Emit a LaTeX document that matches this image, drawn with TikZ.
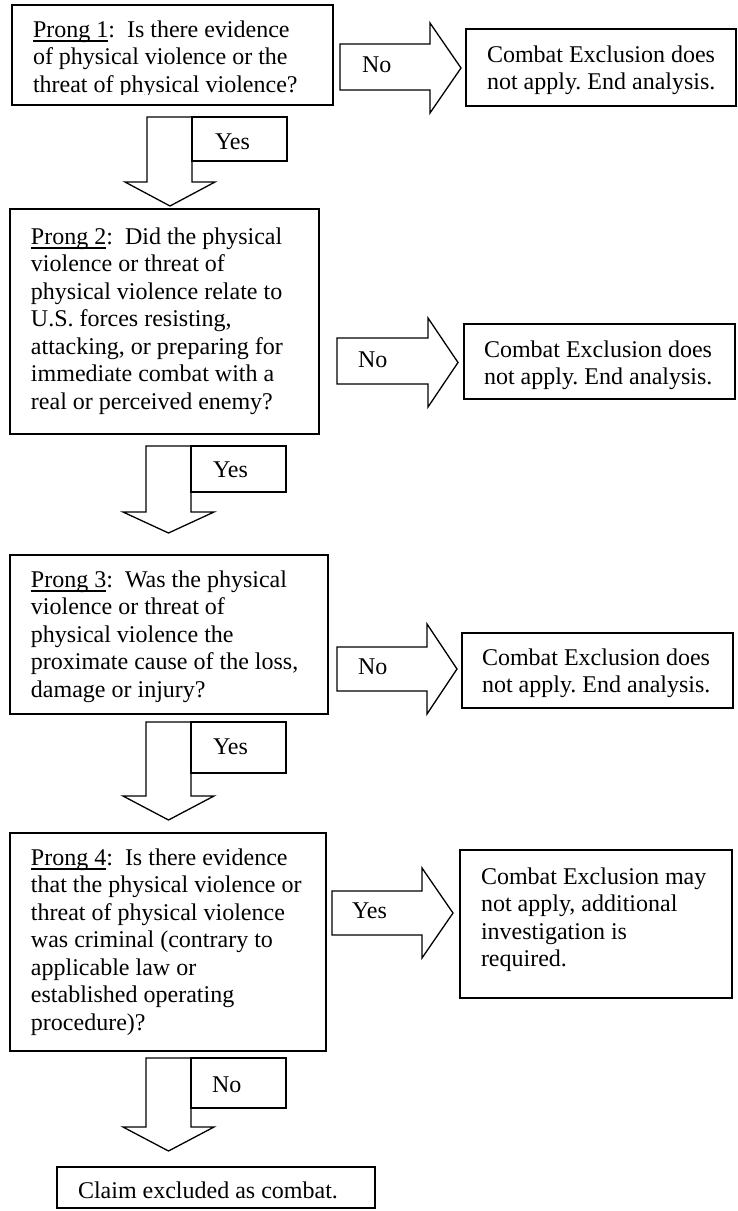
\documentclass[tikz,border=0pt]{standalone}
\usepackage{fontspec}
\setmainfont{Liberation Serif}
\frenchspacing
\newcommand\prong[1]{\leavevmode\setbox0\hbox{#1}\rlap{\rule[-2.3pt]{\wd0}{0.7pt}}\box0}
\newcommand\ptext[1]{\parbox[t]{170pt}{\fontsize{12}{13.75}\selectfont #1}}
\tikzset{
  boxst/.style={draw=black, line width=0.8pt, rectangle, inner sep=0pt, outer sep=0pt},
  txt/.style={inner sep=0pt, outer sep=0pt, anchor=base west, font=\fontsize{12}{13.75}\selectfont},
  blockst/.style={draw=black, line width=0.65pt, line join=miter, fill=white}
}
% box: name, x1, y1, x2, y2 (pixel units, y down)
\newcommand\mkbox[5]{\node[boxst, minimum width={(#4-#2)*0.5pt}, minimum height={(#5-#3)*0.5pt}] (#1) at ({(#2+#4)/2},{(#3+#5)/2}) {};}
% right block arrow: xL, yT, yB, xH, hT, hB, xTip
\newcommand\rblock[7]{\draw[blockst] (#1,#2) -- (#4,#2) -- (#4,#5) -- (#7,{(#5+#6)/2}) -- (#4,#6) -- (#4,#3) -- (#1,#3) -- cycle;}
% down block arrow with label box: xl, xr, top, headbase, hl, hr, tipy, boxright, boxbottom
\newcommand\dblock[9]{\draw[blockst] (#1,#3) -- (#2,#3) -- (#2,#4) -- (#6,#4) -- ({(#5+#6)/2},#7) -- (#5,#4) -- (#1,#4) -- cycle;
  \draw[blockst] (#2,#3) rectangle (#8,#9);}
\begin{document}
\begin{tikzpicture}[x=0.5pt, y=-0.5pt]
\useasboundingbox (0,0) rectangle (738,1211);

% ---------- Prong 1 ----------
\mkbox{p1}{12}{5}{333}{105}
\begin{scope}
\clip (12,5) rectangle (333,94.5);
\node[txt] (p1t) at (33,37) {\ptext{\prong{Prong 1}:\hspace{6pt}Is there evidence\\of physical violence or the\\threat of physical violence?}};
\end{scope}
\rblock{340}{44}{90}{430}{23}{113}{461}
\node[txt] (n1) at (362,72) {No};
\mkbox{e1}{466}{29}{736}{106}
\node[txt] (e1t) at (487,62) {\ptext{Combat Exclusion does\\not apply. End analysis.}};
\dblock{147}{192}{117}{182}{125}{215}{206}{287}{161}
\node[txt] (y1) at (215,149) {Yes};

% ---------- Prong 2 ----------
\mkbox{p2}{10}{209}{319}{434}
\node[txt] (p2t) at (31,244) {\ptext{\prong{Prong 2}:\hspace{6pt}Did the physical\\violence or threat of\\physical violence relate to\\U.S. forces resisting,\\attacking, or preparing for\\immediate combat with a\\real or perceived enemy?}};
\rblock{337}{338}{384}{428}{318}{407}{458}
\node[txt] (n2) at (358,367) {No};
\mkbox{e2}{464}{324}{735}{399}
\node[txt] (e2t) at (484,357) {\ptext{Combat Exclusion does\\not apply. End analysis.}};
\dblock{146}{191}{446}{512}{123}{214}{533}{286}{492}
\node[txt] (y2) at (213,477) {Yes};

% ---------- Prong 3 ----------
\mkbox{p3}{10}{555}{328}{714}
\node[txt] (p3t) at (31,587) {\ptext{\prong{Prong 3}:\hspace{6pt}Was the physical\\violence or threat of\\physical violence the\\proximate cause of the loss,\\damage or injury?}};
\rblock{337}{647}{691}{427}{624}{714}{457}
\node[txt] (n3) at (358,674) {No};
\mkbox{e3}{462}{633}{733}{708}
\node[txt] (e3t) at (482,665) {\ptext{Combat Exclusion does\\not apply. End analysis.}};
\dblock{146}{191}{722}{796}{123}{214}{820}{286}{773}
\node[txt] (y3) at (213,754) {Yes};

% ---------- Prong 4 ----------
\mkbox{p4}{10}{833}{326}{1051}
\node[txt] (p4t) at (31,865) {\ptext{\prong{Prong 4}:\hspace{6pt}Is there evidence\\that the physical violence or\\threat of physical violence\\was criminal (contrary to\\applicable law or\\established operating\\procedure)?}};
\rblock{332}{891}{935}{422}{868}{958}{453}
\node[txt] (y4) at (352,918) {Yes};
\mkbox{e4}{460}{850}{732}{998}
\node[txt] (e4t) at (481,884) {\ptext{Combat Exclusion may\\not apply, additional\\investigation is\\required.}};
\dblock{146}{191}{1058}{1127}{123}{214}{1151}{286}{1108}
\node[txt] (n4) at (212,1092) {No};

% ---------- Final ----------
\mkbox{fin}{57}{1167}{375}{1208}
\node[txt] (fint) at (78,1198) {Claim excluded as combat.};
\end{tikzpicture}
\end{document}
